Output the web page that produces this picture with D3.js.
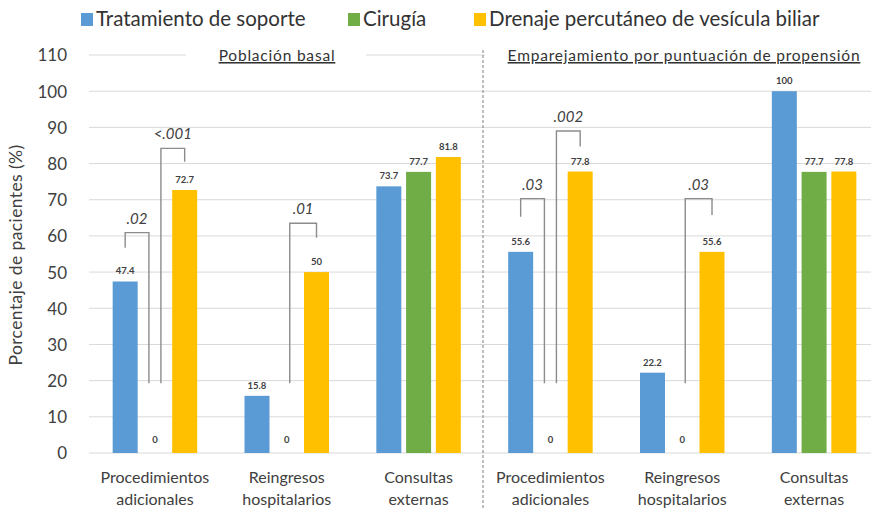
<!DOCTYPE html>
<html>
<head>
<meta charset="utf-8">
<script src="https://cdn.jsdelivr.net/npm/d3@7"></script>
<style>
  body { margin: 0; background: #fff; }
  svg { display: block; font-family: Lato, "Open Sans", sans-serif; }
</style>
</head>
<body>
<svg id="chart" width="871" height="508"></svg>
<script>
const series = ["Tratamiento de soporte", "Cirugía", "Drenaje percutáneo de vesícula biliar"];
const colors = ["#5b9bd5", "#70ad47", "#ffc000"];
const catLines = [
  ["Procedimientos", "adicionales"],
  ["Reingresos", "hospitalarios"],
  ["Consultas", "externas"],
  ["Procedimientos", "adicionales"],
  ["Reingresos", "hospitalarios"],
  ["Consultas", "externas"]
];
const soporte = [47.4, 15.8, 73.7, 55.6, 22.2, 100];
const cirugia = [0, 0, 77.7, 0, 0, 77.7];
const drenaje = [72.7, 50, 81.8, 77.8, 55.6, 77.8];
const yTicks = [0, 10, 20, 30, 40, 50, 60, 70, 80, 90, 100, 110];
const sections = ["Población basal", "Emparejamiento por puntuación de propensión"];

// p-value brackets: group, pair of series, top value, short leg end, label
const pGroup = [0, 0, 1, 3, 3, 4];
const pPair = [[0, 1], [1, 2], [1, 2], [0, 1], [1, 2], [1, 2]];
const pTop = [60.9, 84.2, 63.5, 70.3, 89, 70.3];
const pShort = [56.7, 80.5, 59.5, 65.3, 84.7, 65.8];
const pLong = 19.3;
const pLabel = [".02", "<.001", ".01", ".03", ".002", ".03"];

const svg = d3.select("svg#chart");
const values = [soporte, cirugia, drenaje];
const txt = "#404040";

const x0 = d3.scaleBand().domain(d3.range(catLines.length)).range([89, 880]);
const bw0 = x0.bandwidth();
const x1 = d3.scaleBand().domain(d3.range(series.length))
  .range([bw0 / 2 - 42.25, bw0 / 2 + 42.25]).paddingInner(0.16);
const y = d3.scaleLinear().domain([0, 110]).range([453, 55]);

// gridlines
svg.append("g")
  .selectAll("line")
  .data(yTicks)
  .join("line")
  .attr("x1", 89).attr("x2", 871)
  .attr("y1", d => y(d)).attr("y2", d => y(d))
  .attr("stroke", "#d9d9d9").attr("stroke-width", 1);

// y axis labels
const yAxis = svg.append("g")
  .attr("transform", "translate(67,0)")
  .call(d3.axisLeft(y).tickValues(yTicks).tickSize(0).tickPadding(0));
yAxis.select(".domain").remove();
yAxis.selectAll("text")
  .attr("font-family", "Lato, sans-serif")
  .attr("font-size", 17).attr("fill", txt).attr("dy", "0.35em");

svg.append("text")
  .attr("transform", "translate(22,255) rotate(-90)")
  .attr("text-anchor", "middle")
  .attr("font-size", 17.5).attr("letter-spacing", 0.4).attr("fill", txt)
  .text("Porcentaje de pacientes (%)");

// bars
const groups = svg.append("g")
  .selectAll("g")
  .data(catLines.map((c, i) => i))
  .join("g")
  .attr("transform", i => `translate(${x0(i)},0)`);

groups.selectAll("rect")
  .data(i => values.map((v, s) => ({ s, v: v[i] })))
  .join("rect")
  .attr("x", d => x1(d.s))
  .attr("width", x1.bandwidth())
  .attr("y", d => y(d.v))
  .attr("height", d => y(0) - y(d.v))
  .attr("fill", d => colors[d.s]);

groups.selectAll("text.val")
  .data(i => values.map((v, s) => ({ s, v: v[i] })))
  .join("text")
  .attr("class", "val")
  .attr("x", d => x1(d.s) + x1.bandwidth() / 2)
  .attr("y", d => y(d.v) - (d.v === 0 ? 10 : 7))
  .attr("text-anchor", "middle")
  .attr("font-size", 9.5).attr("font-weight", "bold")
  .attr("fill", txt)
  .text(d => d.v);

// category labels
groups.selectAll("text.cat")
  .data(i => catLines[i])
  .join("text")
  .attr("class", "cat")
  .attr("x", bw0 / 2)
  .attr("y", (d, k) => 483 + k * 22)
  .attr("text-anchor", "middle")
  .attr("font-size", 16).attr("fill", txt)
  .text(d => d);

// brackets
const cx = (g, s) => x0(g) + x1(s) + x1.bandwidth() / 2;
const shared = g => pGroup.filter(v => v === g).length > 1;
const br = svg.append("g");
pLabel.forEach((lab, k) => {
  const g = pGroup[k], [a, b] = pPair[k];
  const off = shared(g) ? 6 : 3;
  let xa = cx(g, a), xb = cx(g, b);
  let ya = y(pShort[k]), yb = y(pShort[k]);
  if (a === 1) { xa += off; ya = y(pLong); }
  if (b === 1) { xb -= off; yb = y(pLong); }
  br.append("path")
    .attr("d", `M${xa},${ya}V${y(pTop[k])}H${xb}V${yb}`)
    .attr("fill", "none").attr("stroke", "#8c8c8c").attr("stroke-width", 1.4);
  br.append("text")
    .attr("x", (xa + xb) / 2).attr("y", y(pTop[k]) - 9)
    .attr("text-anchor", "middle")
    .attr("font-size", 15).attr("font-style", "italic").attr("fill", txt)
    .text(lab);
});

// divider
svg.append("line")
  .attr("x1", x0(3) - 1.5).attr("x2", x0(3) - 1.5)
  .attr("y1", 50).attr("y2", 508)
  .attr("stroke", "#7f7f7f").attr("stroke-width", 1)
  .attr("stroke-dasharray", "3,2");

// section titles
const titleBox = [[186, 366], [485, 871]];
const titleX = [277, 684];
sections.forEach((t, i) => {
  svg.append("rect")
    .attr("x", titleBox[i][0]).attr("y", 44)
    .attr("width", titleBox[i][1] - titleBox[i][0]).attr("height", 24)
    .attr("fill", "#fff");
  svg.append("text")
    .attr("x", titleX[i]).attr("y", 61)
    .attr("text-anchor", "middle")
    .attr("font-size", 15.5).attr("letter-spacing", 0.8).attr("fill", "#333")
    .attr("text-decoration", "underline")
    .text(t);
});

// legend
const legX = [81, 348, 474];
const leg = svg.append("g")
  .selectAll("g")
  .data(series)
  .join("g")
  .attr("transform", (d, i) => `translate(${legX[i]},0)`);
leg.append("rect")
  .attr("x", 0).attr("y", 13).attr("width", 12).attr("height", 13)
  .attr("fill", (d, i) => colors[i]);
leg.append("text")
  .attr("x", 15).attr("y", 26)
  .attr("font-size", 20.5).attr("fill", "#333")
  .text(d => d);
</script>
</body>
</html>
